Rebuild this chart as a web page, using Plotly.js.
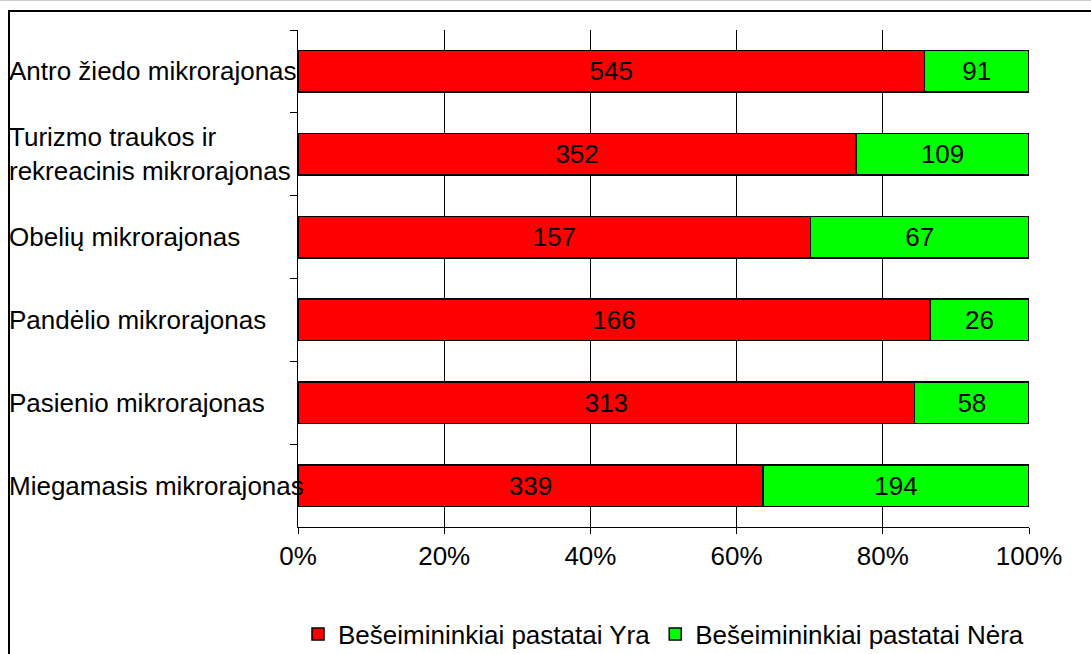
<!DOCTYPE html>
<html>
<head>
<meta charset="utf-8">
<script src="https://cdn.plot.ly/plotly-3.0.1.min.js"></script>
<style>html,body{margin:0;padding:0;background:#fff;}#chart{width:1091px;height:654px;}</style>
</head>
<body>
<div id="chart"></div>
<script>
const categories = [
  "Antro žiedo mikrorajonas",
  "Turizmo traukos ir<br>rekreacinis mikrorajonas",
  "Obelių mikrorajonas",
  "Pandėlio mikrorajonas",
  "Pasienio mikrorajonas",
  "Miegamasis mikrorajonas"
];
const yraValues = [545, 352, 157, 166, 313, 339];
const neraValues = [91, 109, 67, 26, 58, 194];
const seriesNames = ["Bešeimininkiai pastatai Yra", "Bešeimininkiai pastatai Nėra"];
const xTickVals = [0, 20, 40, 60, 80, 100];
const xTickText = ["0%", "20%", "40%", "60%", "80%", "100%"];

const FONT = "Liberation Sans, Arial, sans-serif";
const W = 1091, H = 654;
const L = 298, R = 1029, T = 30, B = 527;
const pw = R - L, ph = B - T;
const px = v => (v - L) / pw;
const py = v => (B - v) / ph;

function barTrace(name, vals, color) {
  return {
    type: "bar", orientation: "h", name: name,
    y: categories, x: vals,
    text: vals.map(String), texttemplate: "%{text}",
    textposition: "inside", insidetextanchor: "middle",
    constraintext: "none", textangle: 0,
    textfont: {family: FONT, size: 26, color: "#000"},
    marker: {color: color, line: {color: "#000", width: 1.5}},
    hoverinfo: "skip"
  };
}

const data = [
  barTrace(seriesNames[0], yraValues, "#FF0000"),
  barTrace(seriesNames[1], neraValues, "#00FF00")
];

const annotations = categories.map(c => ({
  xref: "paper", yref: "y", x: px(7), y: c,
  text: c, showarrow: false, xanchor: "left", yanchor: "middle", align: "left",
  font: {family: FONT, size: 26, color: "#000"}
}));

const layout = {
  width: W, height: H,
  margin: {l: L, r: W - R, t: T, b: H - B, pad: 0, autoexpand: false},
  paper_bgcolor: "#fff", plot_bgcolor: "#fff",
  barmode: "stack", barnorm: "percent", bargap: 0.5,
  font: {family: FONT, size: 26, color: "#000"},
  xaxis: {
    range: [0, 100], tickvals: xTickVals, ticktext: xTickText,
    showgrid: true, gridcolor: "#000", gridwidth: 1,
    showline: true, linecolor: "#000", linewidth: 1,
    ticks: "outside", ticklen: 6, tickcolor: "#000",
    tickfont: {family: FONT, size: 26, color: "#000"},
    zeroline: false, fixedrange: true, automargin: false
  },
  yaxis: {
    type: "category", categoryorder: "array", categoryarray: categories,
    autorange: "reversed",
    showticklabels: false, ticks: "outside", tickson: "boundaries",
    ticklen: 7, tickcolor: "#000",
    showline: true, linecolor: "#000", linewidth: 1,
    showgrid: false, zeroline: false, fixedrange: true, automargin: false
  },
  legend: {
    orientation: "h", x: 0.5, xanchor: "center", y: py(634), yanchor: "middle",
    font: {family: FONT, size: 26, color: "#000"},
    traceorder: "normal", itemwidth: 30,
    bgcolor: "rgba(0,0,0,0)"
  },
  annotations: annotations,
  shapes: [
    {type: "rect", xref: "paper", yref: "paper",
     x0: px(9), x1: px(1200), y0: py(760), y1: py(11),
     line: {color: "#000", width: 2}, fillcolor: "rgba(0,0,0,0)", layer: "above"},
    {type: "line", xref: "paper", yref: "paper",
     x0: px(0), x1: px(1091), y0: py(0.5), y1: py(0.5),
     line: {color: "#c8c8c8", width: 1}}
  ],
  showlegend: true
};

Plotly.newPlot("chart", data, layout, {displayModeBar: false, staticPlot: true});
</script>
</body>
</html>
